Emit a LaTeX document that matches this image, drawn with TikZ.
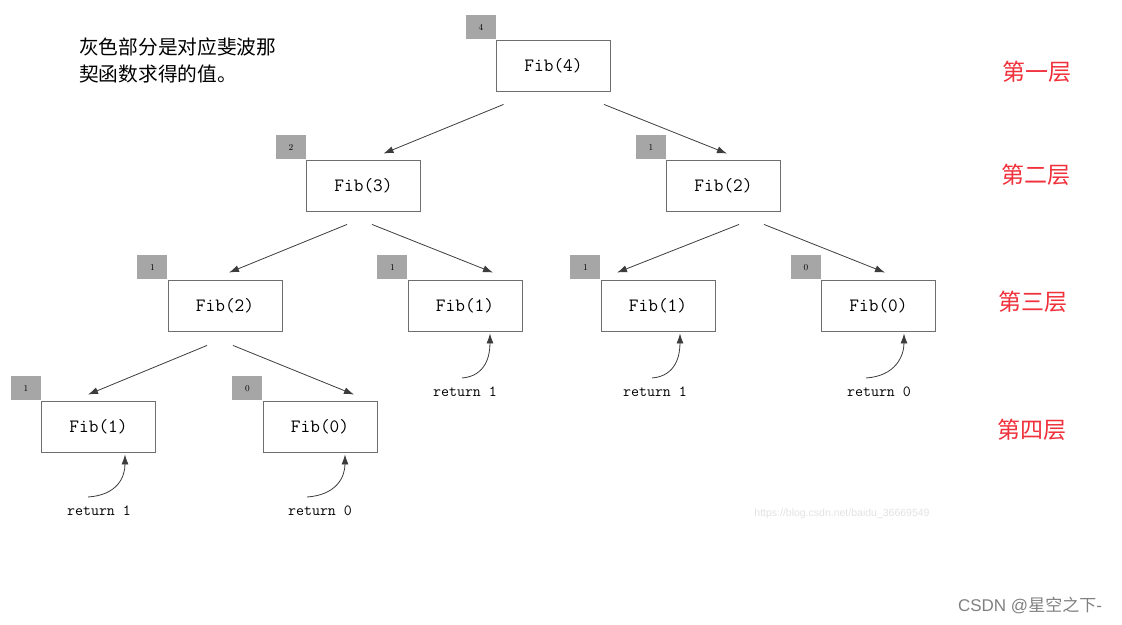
\documentclass[tikz,border=0pt]{standalone}
\usepackage{fontspec}
\newfontfamily\cjk{Noto Sans CJK SC}
\newfontfamily\wm{Liberation Sans}
\usetikzlibrary{arrows.meta,calc}
\definecolor{boxline}{HTML}{6E6E6E}
\definecolor{tagfill}{HTML}{A6A6A6}
\definecolor{lvl}{HTML}{F0303A}
\definecolor{arrc}{HTML}{3C3C3C}
\definecolor{wmlight}{HTML}{E2E2E2}
\definecolor{wmdark}{HTML}{808080}
\begin{document}
\begin{tikzpicture}[x=1pt,y=-1pt,
 fib/.style={draw=boxline,line width=0.9pt,minimum width=114pt,minimum height=51pt,inner sep=0pt,font=\fontsize{18.8}{18.8}\ttfamily},
 tag/.style={fill=tagfill,minimum width=30pt,minimum height=24pt,inner sep=0pt,font=\fontsize{9}{9}\selectfont},
 ret/.style={inner sep=0pt,font=\fontsize{15.5}{15.5}\ttfamily},
 link/.style={draw=arrc,line width=0.8pt,-{Latex[length=10pt,width=7pt]}},
 level/.style={text=lvl,font=\cjk\fontsize{23}{23}\selectfont},
]
\useasboundingbox (0,0) rectangle (1122,624);

% boxes
\node[fib] (f4)  at (553.5,65.5) {Fib(4)};
\node[fib] (f3)  at (363.5,185.5) {Fib(3)};
\node[fib] (f2r) at (723.5,185.5) {Fib(2)};
\node[fib] (f2l) at (225,305.5) {Fib(2)};
\node[fib] (f1m) at (465,305.5) {Fib(1)};
\node[fib] (f1r) at (658,305.5) {Fib(1)};
\node[fib] (f0r) at (878.5,305.5) {Fib(0)};
\node[fib] (f1b) at (98.5,426.5) {Fib(1)};
\node[fib] (f0b) at (320,426.5) {Fib(0)};

% tags
\node[tag,anchor=south east] (t4)  at (f4.north west) {4};
\node[tag,anchor=south east] (t3)  at (f3.north west) {2};
\node[tag,anchor=south east] (t2r) at (f2r.north west) {1};
\node[tag,anchor=south east] (t2l) at (f2l.north west) {1};
\node[tag,anchor=south east] (t1m) at (f1m.north west) {1};
\node[tag,anchor=south east] (t1r) at (f1r.north west) {1};
\node[tag,anchor=south east] (t0r) at (f0r.north west) {0};
\node[tag,anchor=south east] (t1b) at (f1b.north west) {1};
\node[tag,anchor=south east] (t0b) at (f0b.north west) {0};

% tree arrows
\draw[link] ([shift={(-50,13)}]f4.south) -- ([shift={(20,-6)}]f3.north);
\draw[link] ([shift={(50.5,13)}]f4.south) -- ([shift={(3.5,-6)}]f2r.north);
\draw[link] ([shift={(-16.5,13)}]f3.south) -- ([shift={(4,-7)}]f2l.north);
\draw[link] ([shift={(8.5,13)}]f3.south) -- ([shift={(28,-7)}]f1m.north);
\draw[link] ([shift={(15.5,13)}]f2r.south) -- ([shift={(-41,-7)}]f1r.north);
\draw[link] ([shift={(40.5,13)}]f2r.south) -- ([shift={(6.5,-7)}]f0r.north);
\draw[link] ([shift={(-18,14)}]f2l.south) -- ([shift={(-10.5,-6)}]f1b.north);
\draw[link] ([shift={(8,14)}]f2l.south) -- ([shift={(34,-6)}]f0b.north);

% return labels
\node[ret] (r1m) at (465,392) {return 1};
\node[ret] (r1r) at (655,392) {return 1};
\node[ret] (r0r) at (879,392) {return 0};
\node[ret] (r1b) at (99,511) {return 1};
\node[ret] (r0b) at (320,511) {return 0};

\draw[link] ([shift={(-3,-14)}]r1m.center) .. controls +(24,-2) and +(0,22) .. ([shift={(25,2)}]f1m.south);
\draw[link] ([shift={(-3,-14)}]r1r.center) .. controls +(24,-2) and +(0,22) .. ([shift={(22,2)}]f1r.south);
\draw[link] ([shift={(-13,-14)}]r0r.center) .. controls +(30,-2) and +(0,22) .. ([shift={(25.5,2)}]f0r.south);
\draw[link] ([shift={(-11,-14)}]r1b.center) .. controls +(30,-2) and +(0,22) .. ([shift={(26.5,2)}]f1b.south);
\draw[link] ([shift={(-13,-14)}]r0b.center) .. controls +(30,-2) and +(0,22) .. ([shift={(25,2)}]f0b.south);

% note
\node[anchor=north west,align=left,inner sep=0pt,font=\cjk\fontsize{19.7}{27}\selectfont] (note) at (79,38)
  {灰色部分是对应斐波那\\契函数求得的值。};

% levels
\node[level] (l1) at (1037,72) {第一层};
\node[level] (l2) at (1036,175) {第二层};
\node[level] (l3) at (1033,302) {第三层};
\node[level] (l4) at (1032,430) {第四层};

% watermarks
\node[text=wmlight,font=\wm\fontsize{10.5}{10.5}\selectfont] (w1) at (842,514) {https://blog.csdn.net/baidu\_36669549};
\node[text=wmdark,font=\fontsize{17}{17}\selectfont] (w2) at (1030,605) {{\wm CSDN @}{\cjk 星空之下}{\wm -}};
\end{tikzpicture}
\end{document}
